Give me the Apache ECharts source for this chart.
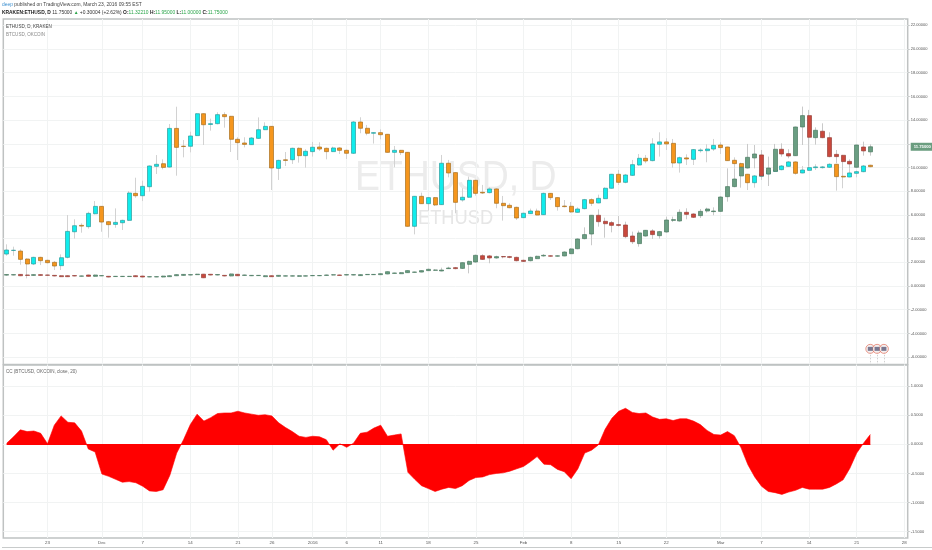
<!DOCTYPE html>
<html><head><meta charset="utf-8">
<style>html,body{margin:0;padding:0;background:#fff}#c{width:932px;height:550px}</style>
<script src="https://cdn.jsdelivr.net/npm/echarts@6/dist/echarts.min.js"></script>
</head><body><div id="c"></div>
<script>
const slotCount = 133;
const dateTicks = {6:'23',14:'Dec',20:'7',27:'14',34:'21',39:'26',45:'2016',50:'6',55:'11',62:'18',69:'25',76:'Feb',83:'8',90:'15',97:'22',105:'Mar',111:'7',118:'14',125:'21',132:'28'};
const priceTicks = [-6,-4,-2,0,2,4,6,8,10,12,14,16,18,20,22];
const priceLabels = [-6,-4,-2,0,2,4,6,8,10,14,16,18,20,22];
const ccTicks = [-1.5,-1,-0.5,0,0.5,1];
const lastPrice = 11.75;
const ethOpen = [.92,.93,.98,.93,.90,.96,.93,.90,.87,.87,
.88,.83,.93,.82,.86,.82,.80,.80,.80,.87,
.84,.77,.77,.76,.79,.87,.90,.93,.96,1.00,
.99,.93,.90,.85,.99,.90,.87,.88,.79,.87,
.82,.84,.84,.82,.84,.87,.87,.90,.93,.93,
.93,.93,.88,.96,.96,.96,1.02,1.07,1.04,1.13,
1.16,1.18,1.30,1.33,1.27,1.47,1.55,1.49,1.83,2.03,
2.56,2.54,2.37,2.49,2.48,2.42,2.17,2.14,2.31,2.54,
2.55,2.52,2.54,2.73,3.15,4.00,4.39,5.97,5.46,5.35,
5.18,5.15,4.22,3.58,4.22,4.65,4.25,4.56,5.54,5.49,
6.22,6.08,5.94,6.33,6.28,6.30,7.54,8.39,9.29,9.96,
10.81,11.06,9.46,9.68,11.54,11.17,11.00,13.42,14.38,12.52,
13.06,12.52,11.11,11.03,10.52,10.02,11.73,11.32];
const ethClose = [.97,.96,.87,.90,.96,.90,.91,.85,.79,.79,
.85,.85,.82,.93,.88,.76,.82,.82,.82,.79,
.76,.79,.79,.84,.87,.96,.98,.96,1.00,.70,
.93,.97,.85,1.02,.87,.93,.90,.90,.87,.79,
.90,.86,.86,.87,.86,.89,.89,.93,.95,.90,
.96,.96,.96,.98,.98,1.04,1.21,1.10,1.13,1.30,
1.18,1.30,1.41,1.35,1.35,1.52,1.47,1.97,2.08,2.59,
2.25,2.37,2.48,2.46,2.42,2.14,2.08,2.42,2.51,2.59,
2.52,2.55,2.87,3.13,3.97,4.34,5.97,5.43,5.26,5.12,
5.12,4.17,3.74,4.48,4.70,4.34,4.59,5.57,5.60,6.22,
6.05,5.80,6.30,6.50,6.33,7.51,8.39,9.03,10.02,10.86,
11.14,9.29,9.96,11.54,11.14,10.97,13.42,14.38,12.55,13.14,
12.52,10.92,10.92,10.50,10.30,11.90,11.40,11.75];
const ethLow = [.87,.90,.84,.88,.87,.87,.88,.82,.76,.76,
.82,.80,.79,.79,.83,.73,.78,.78,.78,.76,
.73,.75,.75,.73,.76,.84,.87,.90,.93,.67,
.90,.90,.82,.82,.84,.87,.84,.85,.76,.76,
.79,.82,.82,.79,.82,.84,.84,.87,.90,.88,
.90,.90,.85,.93,.93,.93,.99,1.04,1.02,1.10,
1.13,1.16,1.27,1.30,1.24,1.44,1.41,1.44,1.07,1.97,
2.20,1.92,2.31,2.34,2.34,2.08,2.03,2.08,2.28,2.48,
2.48,2.48,2.51,2.70,3.10,3.94,3.44,5.01,4.08,4.53,
5.01,4.03,3.55,3.32,4.17,3.97,4.00,4.50,5.40,5.43,
5.63,5.74,5.74,6.19,5.97,6.28,7.12,8.33,8.30,9.91,
9.93,9.17,8.44,9.65,10.92,10.78,10.97,11.90,10.07,11.93,
12.47,10.86,10.36,9.79,9.93,9.99,11.00,11.00];
const ethHigh = [1.00,.99,1.01,.96,.99,.99,.96,.93,.90,.90,
.91,.88,.96,.96,.91,.85,.85,.85,.85,.90,
.87,.82,.82,.87,.90,.99,1.01,.99,1.03,1.03,
1.02,1.00,.93,1.05,1.02,.96,.93,.93,.90,.90,
.93,.89,.89,.90,.89,.92,.92,.96,.98,.96,
.99,.99,.99,1.01,1.01,1.07,1.24,1.13,1.16,1.33,
1.21,1.33,1.47,1.41,1.55,1.63,1.61,2.00,2.14,2.65,
2.68,2.62,2.56,2.54,2.54,2.48,2.23,2.48,2.56,2.70,
2.59,2.59,2.93,3.18,4.03,4.95,5.99,6.47,5.77,5.49,
5.91,5.43,4.59,4.67,4.73,4.79,4.65,5.85,5.85,6.47,
6.56,6.14,6.50,6.61,6.64,7.57,9.93,9.93,10.36,11.99,
11.90,11.48,10.92,11.99,12.04,11.54,13.45,15.14,14.86,13.39,
13.73,12.97,11.48,11.06,10.69,11.93,12.18,11.95];
const btcOpen = [2.70,3.00,2.95,2.28,1.86,2.42,2.17,2.00,1.72,2.42,
4.58,5.12,5.01,6.10,6.72,5.43,5.20,5.34,5.54,7.82,
7.62,8.38,10.10,10.32,10.04,13.30,11.80,11.79,12.69,14.54,
13.63,13.70,14.46,14.32,12.38,12.07,11.93,12.46,13.19,13.47,
9.93,10.65,10.66,11.62,11.00,11.34,11.73,11.62,11.34,11.65,
11.45,11.20,13.84,13.31,12.89,12.94,12.80,11.28,11.45,11.28,
5.04,7.57,6.95,7.46,6.87,10.36,9.57,7.26,7.49,8.92,
7.91,7.88,8.19,6.98,6.81,6.64,5.77,6.11,6.33,6.02,
7.82,7.46,6.75,6.73,6.22,6.53,7.29,7.01,7.37,8.25,
9.43,8.75,9.34,10.21,10.78,10.58,11.96,12.16,12.04,10.38,
10.81,10.69,11.42,11.42,11.56,11.90,11.73,10.61,10.33,9.43,
8.72,9.26,9.46,9.68,9.82,10.10,10.47,9.54,9.76,9.99,
9.99,10.02,10.27,9.26,9.20,9.51,9.65,10.19];
const btcClose = [3.04,3.02,2.25,1.86,2.42,2.14,1.97,1.69,2.39,4.61,
5.09,5.06,6.13,6.72,5.40,5.18,5.37,5.54,7.85,7.62,
8.41,10.13,10.27,10.01,13.30,11.70,11.77,12.66,14.54,13.61,
13.70,14.46,14.29,12.38,12.10,11.95,12.49,13.19,13.47,9.96,
10.60,10.60,11.62,11.00,11.37,11.71,11.56,11.34,11.65,11.45,
11.20,13.84,13.31,12.89,12.94,12.77,11.28,11.45,11.26,5.04,
7.57,6.95,7.46,6.84,10.36,9.54,7.06,7.49,8.92,7.82,
7.85,8.19,6.98,6.78,6.61,5.74,6.14,6.33,5.99,7.82,
7.46,6.70,6.70,6.25,6.50,7.29,6.98,7.40,8.25,9.43,
8.75,9.37,10.24,10.78,10.55,11.99,12.16,11.99,10.38,10.83,
10.72,11.51,11.48,11.56,11.87,11.68,10.58,10.33,10.02,8.72,
9.29,9.46,9.74,9.79,10.13,10.47,9.51,9.79,9.99,10.05,
10.05,10.27,9.23,9.20,9.54,9.65,10.13,10.07];
const btcLow = [2.56,2.56,1.80,0.65,1.77,1.77,1.91,1.35,1.35,2.33,
4.00,4.50,4.84,6.05,4.58,4.08,4.92,4.73,5.51,7.45,
7.17,7.96,9.45,9.85,9.99,9.31,10.86,11.28,12.66,11.90,
13.11,13.64,13.36,11.31,10.63,11.70,11.90,12.41,13.16,8.10,
8.95,10.13,10.30,10.41,9.99,10.92,11.40,10.69,11.31,11.14,
10.72,11.14,12.89,12.72,12.02,12.38,11.26,10.02,11.06,5.01,
4.36,6.92,6.36,6.75,6.84,9.17,6.14,7.12,7.46,7.63,
7.77,7.82,6.56,5.52,6.56,5.57,5.74,6.08,5.97,5.99,
7.26,6.36,6.64,6.19,6.19,6.47,6.75,6.98,7.35,8.22,
8.53,8.67,9.29,10.16,10.36,10.52,10.92,11.48,9.99,9.57,
10.21,10.21,11.26,10.44,11.40,11.14,10.55,9.93,9.93,8.10,
8.30,8.95,9.37,9.62,9.76,10.07,9.40,9.51,9.74,9.79,
9.91,9.96,8.05,8.25,9.17,9.17,9.60,10.02];
const btcHigh = [3.52,3.32,3.09,2.33,2.47,2.47,2.22,2.11,2.67,5.99,
5.63,5.29,6.27,7.17,6.75,5.49,6.55,5.60,8.02,9.14,
8.89,10.18,11.05,10.69,13.67,15.13,12.32,13.02,14.57,14.57,
14.12,14.66,14.66,14.35,12.55,12.55,12.57,14.23,13.81,13.50,
10.66,11.31,11.67,11.70,11.54,12.16,12.13,11.68,11.76,11.71,
11.51,13.93,14.24,13.59,12.97,13.22,12.83,11.82,11.48,11.31,
7.60,7.88,7.49,7.51,11.06,10.64,9.60,8.25,9.23,8.98,
8.53,8.33,8.27,7.60,6.98,6.70,6.19,6.53,6.53,7.88,
7.85,7.49,7.26,7.09,6.64,7.35,7.40,7.71,8.33,9.46,
9.79,9.46,10.64,11.14,11.06,12.47,12.97,12.47,12.41,10.92,
11.11,11.56,11.62,11.96,12.41,12.13,11.76,10.86,10.41,9.46,
9.37,9.65,9.93,10.21,10.21,10.55,10.52,10.13,10.07,10.27,
10.13,10.36,10.30,10.07,9.93,9.74,10.21,10.24];
const ccValues = [.02,.13,.25,.22,.23,.19,.01,.33,.49,.38,
.37,.23,-.08,-.13,-.51,-.55,-.60,-.65,-.64,-.66,
-.72,-.80,-.81,-.78,-.53,-.15,.08,.34,.52,.40,
.46,.53,.54,.54,.57,.54,.52,.50,.51,.49,
.37,.29,.22,.14,.12,.14,.13,.08,-.10,.01,
-.05,.02,.19,.21,.28,.33,.14,.16,.18,-.48,
-.60,-.71,-.76,-.81,-.77,-.74,-.76,-.71,-.62,-.57,
-.56,-.52,-.50,-.49,-.46,-.42,-.38,-.30,-.21,-.34,
-.35,-.43,-.47,-.59,-.42,-.15,-.10,-.01,.26,.45,
.57,.62,.55,.53,.54,.47,.43,.44,.41,.44,
.44,.40,.34,.24,.17,.16,.22,.15,-.06,-.35,
-.56,-.72,-.81,-.83,-.86,-.82,-.79,-.74,-.77,-.77,
-.77,-.74,-.68,-.61,-.41,-.15,.02,.17];
const signposts = [127,128,129];
const signpostLevel = -5.3;

const categories = Array.from({length:slotCount},(_,i)=>String(i));
const wick = (o,c,l,h)=>o.map((v,i)=>[v,c[i],l[i],h[i]]);
const body = (o,c)=>o.map((v,i)=>[v,c[i],Math.min(v,c[i]),Math.max(v,c[i])]);
const vLines = Object.keys(dateTicks).map(k=>({xAxis:String(k)}));
const GRID='#f1f3f3', AXIS='#bfc2c2', FONT='"Liberation Sans",Arial,sans-serif', BW=4.4;
const tickAt=(i)=>dateTicks[i]!==undefined;

function wickSeries(o,c,l,h,col,name){return {name,type:'candlestick',xAxisIndex:0,yAxisIndex:0,z:2,barWidth:1,silent:true,
  data:wick(o,c,l,h),itemStyle:{color:col,color0:col,borderColor:col,borderColor0:col,borderWidth:1}};}
function bodySeries(o,c,up,dn,upB,dnB,name){return {name,type:'candlestick',xAxisIndex:0,yAxisIndex:0,z:3,barWidth:BW,silent:true,
  data:body(o,c),itemStyle:{color:up,color0:dn,borderColor:upB,borderColor0:dnB,borderWidth:0.7}};}

const chart=echarts.init(document.getElementById('c'),null,{renderer:'canvas'});
chart.setOption({
 animation:false,backgroundColor:'#fff',
 grid:[{left:3.3,top:19,width:904.4,height:345.5,show:true,borderColor:AXIS,borderWidth:1.5,outerBoundsMode:'none'},
       {left:3.3,top:365,width:904.4,height:173,show:true,borderColor:AXIS,borderWidth:1.5,outerBoundsMode:'none'}],
 xAxis:[
  {type:'category',gridIndex:0,data:categories,axisLine:{show:false},axisTick:{show:false},axisLabel:{show:false},splitLine:{show:false}},
  {type:'category',gridIndex:1,data:categories,axisLine:{show:false},splitLine:{show:false},
   axisTick:{show:true,alignWithLabel:true,length:2,interval:(i)=>tickAt(i),lineStyle:{color:AXIS,width:0.7}},
   axisLabel:{show:true,interval:0,fontSize:4.4,color:'#555',fontFamily:FONT,margin:2.5,formatter:(v)=>dateTicks[v]||''}}
 ],
 yAxis:[
  {type:'value',gridIndex:0,position:'right',min:-6.62,max:22.53,scale:true,
   axisLine:{show:false},
   axisTick:{show:true,length:2.5,lineStyle:{color:AXIS,width:0.7},customValues:priceTicks},
   splitLine:{show:true,lineStyle:{color:GRID,width:1}},
   axisLabel:{fontSize:4,color:'#555',fontFamily:FONT,margin:3,customValues:priceLabels.concat([lastPrice]),
     formatter:v=>v===lastPrice?'{tag|'+v.toFixed(5)+'}':v.toFixed(5),
     rich:{tag:{backgroundColor:'#6b9e80',color:'#fff',fontSize:4.2,padding:[2,3,2,3],fontFamily:FONT,fontWeight:'bold'}}}},
  {type:'value',gridIndex:1,position:'right',min:-1.61,max:1.365,scale:true,
   axisLine:{show:false},
   axisTick:{show:true,length:2.5,lineStyle:{color:AXIS,width:0.7},customValues:ccTicks},
   splitLine:{show:true,lineStyle:{color:GRID,width:1}},
   axisLabel:{fontSize:4,color:'#555',fontFamily:FONT,margin:3,customValues:ccTicks,formatter:v=>v.toFixed(4)}}
 ],
 graphic:[
  {type:'text',z:1,left:355,top:157,silent:true,scaleX:0.87,style:{text:'ETHUSD, D',fill:'#ececec',font:'43px '+FONT}},
  {type:'text',z:1,left:418,top:208,silent:true,scaleX:0.87,style:{text:'ETHUSD',fill:'#e6e6e6',font:'21px '+FONT}},
  {type:'text',z:10,left:2,top:2.5,style:{font:'4.9px '+FONT,text:'{a|deep}{b| published on TradingView.com, March 23, 2016 09:55 EST}',
    rich:{a:{fill:'#3a8fd0',font:'4.9px '+FONT},b:{fill:'#444',font:'4.9px '+FONT}}}},
  {type:'text',z:10,left:2,top:10.5,style:{font:'4.9px '+FONT,
    text:'{k|KRAKEN:ETHUSD, D}{n| 11.75000 }{g|▲ }{n|+0.30004 (+2.62%) }{k|O:}{g|11.32210 }{k|H:}{g|11.95000 }{k|L:}{g|11.00000 }{k|C:}{g|11.75000}',
    rich:{k:{fill:'#222',font:'bold 4.9px '+FONT},n:{fill:'#333',font:'4.9px '+FONT},g:{fill:'#2aa54a',font:'4.9px '+FONT}}}},
  {type:'text',z:10,left:6,top:24.5,style:{text:'ETHUSD, D, KRAKEN',fill:'#444',font:'4.55px '+FONT}},
  {type:'text',z:10,left:6,top:32.5,style:{text:'BTCUSD, OKCOIN',fill:'#888',font:'4.55px '+FONT}},
  {type:'text',z:10,left:6,top:369.5,style:{text:'CC (BTCUSD, OKCOIN, close, 20)',fill:'#666',font:'4.55px '+FONT}},
  {type:'line',z:1,silent:true,shape:{x1:2,y1:547.5,x2:932,y2:547.5},style:{stroke:'#c8cbcb',lineWidth:1}}
 ],
 series:[
  {type:'line',xAxisIndex:0,yAxisIndex:0,data:[],silent:true,z:1,
   markLine:{z:1,silent:true,symbol:'none',animation:false,label:{show:false},lineStyle:{color:GRID,width:1,type:'solid'},data:vLines}},
  {type:'line',xAxisIndex:1,yAxisIndex:1,data:[],silent:true,z:1,
   markLine:{z:1,silent:true,symbol:'none',animation:false,label:{show:false},lineStyle:{color:GRID,width:1,type:'solid'},data:vLines}},
  wickSeries(btcOpen,btcClose,btcLow,btcHigh,'#d2d2d2','BTCUSD wick'),
  wickSeries(ethOpen,ethClose,ethLow,ethHigh,'#c9c9c9','ETHUSD wick'),
  bodySeries(btcOpen,btcClose,'#10ecec','#f5961d','#2c9c9c','#a8701f','BTCUSD'),
  bodySeries(ethOpen,ethClose,'#6a9e82','#c9483c','#4a7a62','#96403a','ETHUSD'),
  {type:'line',xAxisIndex:1,yAxisIndex:1,data:ccValues,showSymbol:false,silent:true,z:3,
   lineStyle:{color:'#ff0000',width:0.6},itemStyle:{color:'#ff0000'},areaStyle:{color:'#ff0000',opacity:1,origin:0},
   markLine:{silent:true,symbol:'none',animation:false,label:{show:false},lineStyle:{color:'#ff0000',width:1.2,type:'solid'},
     data:[[{coord:['0',0]},{coord:['127',0]}]]}},
  {type:'scatter',xAxisIndex:0,yAxisIndex:0,z:6,silent:true,symbol:'circle',symbolSize:9,
   data:signposts.map(i=>[String(i),signpostLevel]),
   itemStyle:{color:'#f3eeee',borderColor:'#e0604a',borderWidth:0.8},
   markLine:{silent:true,symbol:'none',animation:false,label:{show:false},lineStyle:{color:'#bbb',width:0.7,type:[1.5,1.5]},
     data:signposts.map(i=>[{coord:[String(i),signpostLevel]},{coord:[String(i),-6.6]}])}},
  {type:'scatter',xAxisIndex:0,yAxisIndex:0,z:7,silent:true,symbol:'rect',symbolSize:[5,4],
   data:signposts.map(i=>[String(i),signpostLevel]),itemStyle:{color:'#5a5a78'}}
 ]
});
</script></body></html>
